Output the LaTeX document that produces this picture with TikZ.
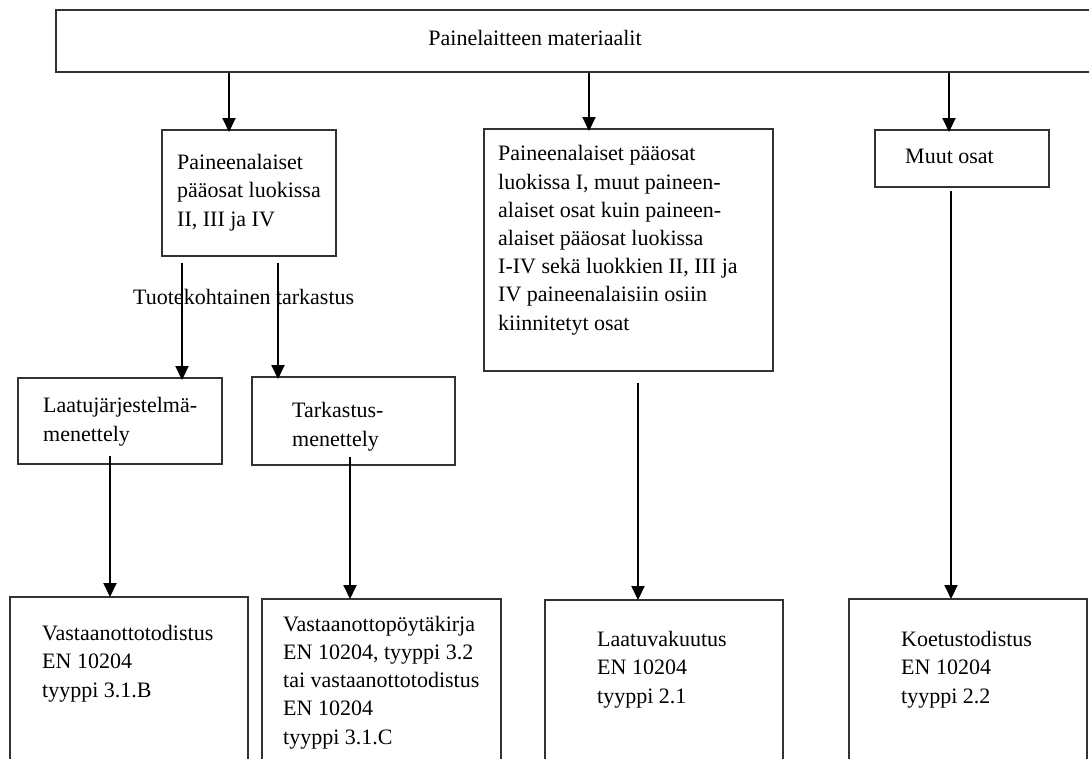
\documentclass[tikz,border=0pt]{standalone}
\usepackage{fontspec}
\setmainfont{Liberation Serif}
\usetikzlibrary{arrows.meta}
\begin{document}
\begin{tikzpicture}[x=1pt,y=-1pt,
  box/.style={draw=black!80, line width=1.5pt, inner sep=0pt, anchor=north west, fill=none},
  txt/.style={inner sep=0pt, anchor=base west, align=left, font=\fontsize{22}{28.2}\selectfont},
  arr/.style={line width=2pt, -{Triangle[width=13pt,length=14pt]}}]
\path[use as bounding box, clip] (0,0) rectangle (1089,758);
% boxes
\node[box, minimum width=1045, minimum height=62] (top) at (55,9) {};
\node[box, minimum width=174, minimum height=126] (A) at (161,129) {};
\node[box, minimum width=289, minimum height=242] (B) at (483,128) {};
\node[box, minimum width=174, minimum height=57] (C) at (874,129) {};
\node[box, minimum width=204, minimum height=86] (D) at (17,377) {};
\node[box, minimum width=203, minimum height=88] (E) at (251,376) {};
\node[box, minimum width=238, minimum height=200] (F) at (9,596) {};
\node[box, minimum width=239, minimum height=200] (G) at (261,598) {};
\node[box, minimum width=238, minimum height=200] (H) at (544,599) {};
\node[box, minimum width=238, minimum height=200] (I) at (848,598) {};
% texts (anchored at the baseline of their last line)
\node[txt, anchor=base] (topt) at (535,45) {Painelaitteen materiaalit};
\node[txt] (At) at (177,226) {Paineenalaiset\\pääosat luokissa\\II, III ja IV};
\node[txt] (Bt) at (498,330) {Paineenalaiset pääosat\\luokissa I, muut paineen-\\alaiset osat kuin paineen-\\alaiset pääosat luokissa\\I-IV sekä luokkien II, III ja\\IV paineenalaisiin osiin\\kiinnitetyt osat};
\node[txt] (Ct) at (905,163) {Muut osat};
\node[txt] (Dt) at (43,441) {Laatujärjestelmä-\\menettely};
\node[txt] (Et) at (292,446) {Tarkastus-\\menettely};
\node[txt] (Ft) at (42,697) {Vastaanottotodistus\\EN 10204\\tyyppi 3.1.B};
\node[txt] (Gt) at (283,744) {Vastaanottopöytäkirja\\EN 10204, tyyppi 3.2\\tai vastaanottotodistus\\EN 10204\\tyyppi 3.1.C};
\node[txt] (Ht) at (597,703) {Laatuvakuutus\\EN 10204\\tyyppi 2.1};
\node[txt] (It) at (901,703) {Koetustodistus\\EN 10204\\tyyppi 2.2};
\node[txt] (lbl) at (133,304) {Tuotekohtainen tarkastus};
% connector x positions
\coordinate (xa) at (229,0);
\coordinate (xb) at (589,0);
\coordinate (xc) at (949,0);
\coordinate (xd) at (182,0);
\coordinate (xe) at (278,0);
\coordinate (xf) at (110,0);
\coordinate (xg) at (350,0);
\coordinate (xh) at (638,0);
\coordinate (xi) at (951,0);
% connectors
\draw[arr] (top.south -| xa) -- ([yshift=-3pt]A.north -| xa);
\draw[arr] (top.south -| xb) -- ([yshift=-3pt]B.north -| xb);
\draw[arr] (top.south -| xc) -- ([yshift=-3pt]C.north -| xc);
\draw[arr] ([yshift=-6pt]A.south -| xd) -- ([yshift=-3pt]D.north -| xd);
\draw[arr] ([yshift=-6pt]A.south -| xe) -- ([yshift=-3pt]E.north -| xe);
\draw[arr] ([yshift=9pt]D.south -| xf) -- ([yshift=-1pt]F.north -| xf);
\draw[arr] ([yshift=9pt]E.south -| xg) -- ([yshift=-1pt]G.north -| xg);
\draw[arr] ([yshift=-11pt]B.south -| xh) -- ([yshift=-1pt]H.north -| xh);
\draw[arr] ([yshift=-3pt]C.south -| xi) -- ([yshift=-1pt]I.north -| xi);
\end{tikzpicture}
\end{document}
